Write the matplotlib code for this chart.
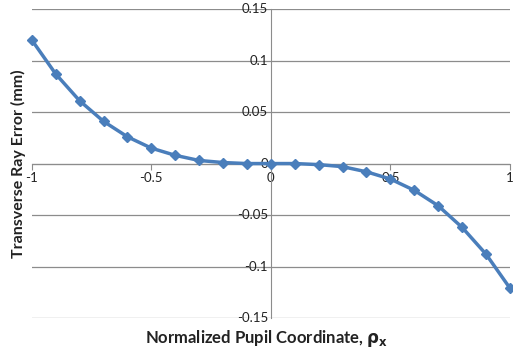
import numpy as np
import matplotlib
matplotlib.use('Agg')
from matplotlib import pyplot as plt

# pupil coordinate and transverse ray error (mm)
rho_x = [-1.0, -0.9, -0.8, -0.7, -0.6, -0.5, -0.4, -0.3, -0.2, -0.1, 0.0,
         0.1, 0.2, 0.3, 0.4, 0.5, 0.6, 0.7, 0.8, 0.9, 1.0]
ray_error = [0.120, 0.087, 0.061, 0.041, 0.026, 0.015, 0.008, 0.003, 0.001, 0.0, 0.0,
             0.0, -0.001, -0.003, -0.008, -0.015, -0.026, -0.041, -0.062, -0.088, -0.121]
x_ticks = [-1, -0.5, 0, 0.5, 1]
x_tick_labels = ['-1', '-0.5', '0', '0.5', '1']
y_ticks = [-0.15, -0.1, -0.05, 0, 0.05, 0.1, 0.15]
y_tick_labels = ['-0.15', '-0.1', '-0.05', '0', '0.05', '0.1', '0.15']

plt.rcParams['font.family'] = ['Lato', 'DejaVu Sans']

fig = plt.figure(figsize=(5.13, 3.51), dpi=100)
ax = fig.add_axes([0.062, 0.094, 0.932, 0.880])

# horizontal gridlines (Excel style)
for yv in y_ticks:
    ax.axhline(yv, color='#8c8c8c', lw=0.9, zorder=1)

ax.plot(rho_x, ray_error, color='#4A7EBB', lw=2.5, marker='D', markersize=5.5,
        markerfacecolor='#4A7EBB', markeredgecolor='#4A7EBB', zorder=3, clip_on=False)

ax.set_xlim(-1, 1)
ax.set_ylim(-0.15, 0.15)

# axes crossing at the origin
ax.spines['left'].set_position('zero')
ax.spines['bottom'].set_position('zero')
ax.spines['right'].set_visible(False)
ax.spines['top'].set_visible(False)
ax.spines['left'].set_color('#8c8c8c')
ax.spines['bottom'].set_color('#8c8c8c')

ax.set_xticks(x_ticks)
ax.set_xticklabels(x_tick_labels)
ax.set_yticks(y_ticks)
ax.set_yticklabels(y_tick_labels)
ax.tick_params(axis='x', length=4, color='#8c8c8c', labelsize=9.5, pad=2, labelcolor='#222222')
ax.tick_params(axis='y', length=0, labelsize=9.5, pad=2, labelcolor='#222222')
for lbl in ax.get_yticklabels():
    lbl.set_verticalalignment('center')

fig.text(0.036, 0.535, 'Transverse Ray Error (mm)', rotation=90, ha='center', va='center',
         fontsize=11.5, fontweight='bold', color='#222222')
fig.text(0.52, 0.035, r'Normalized Pupil Coordinate, $\mathbf{\rho_x}$', ha='center', va='center',
         fontsize=12, fontweight='bold', color='#222222')

fig.savefig('out.png', dpi=100)
